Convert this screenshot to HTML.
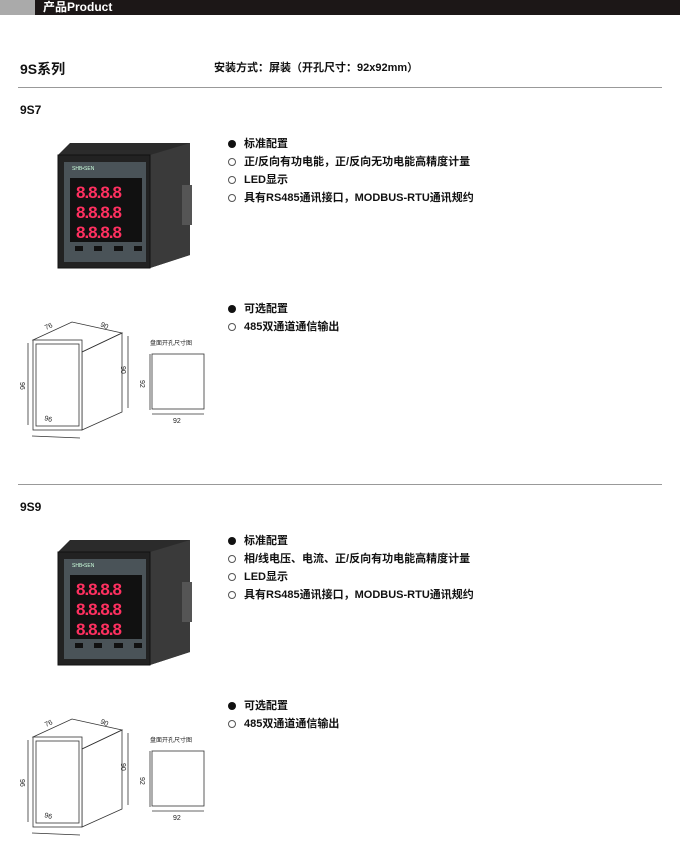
<!DOCTYPE html>
<html><head><meta charset="utf-8"><style>
body{margin:0;width:680px;height:848px;background:#fff;position:relative;overflow:hidden;font-family:"Liberation Sans","Noto Sans CJK SC",sans-serif;color:#111}
.a{position:absolute;white-space:nowrap}
.b{font-size:11px;font-weight:bold}
.dot{display:inline-block;width:8px;height:8px;border-radius:50%;margin-right:8px;vertical-align:-1px;box-sizing:border-box}
.f{background:#111}.o{border:1px solid #555}
.sec{position:absolute;left:0;width:680px;height:397px}
</style></head><body>
<div class="a" style="left:0;top:0;width:680px;height:15px;background:#1c1717"></div>
<div class="a" style="left:0;top:0;width:35px;height:15px;background:#aaa"></div>
<div class="a" style="left:43px;top:0;font-size:12px;font-weight:bold;color:#fff;line-height:15px">产品Product</div>
<div class="a" style="left:20px;top:59px;font-size:14px;font-weight:bold">9S系列</div>
<div class="a b" style="left:214px;top:59px">安装方式：屏装（开孔尺寸：92x92mm）</div>

<div class="sec" style="top:0">
<div class="a" style="left:18px;top:87px;width:644px;height:1px;background:#999"></div>
<div class="a" style="left:20px;top:103px;font-size:12px;font-weight:bold">9S7</div>
<svg class="a" style="left:0;top:0" width="240" height="440">
<polygon points="58,155 70,143 190,143 190,255 150,268 58,268" fill="#2b2b2b"/>
<polygon points="150,155 190,143 190,255 150,268" fill="#3a3a3a"/>
<rect x="182" y="185" width="10" height="40" fill="#555"/>
<rect x="58" y="155" width="92" height="113" fill="#222" stroke="#111"/>
<rect x="64" y="162" width="82" height="100" fill="#4a5358"/>
<text x="72" y="170" font-size="5" fill="#cfd" font-family="Liberation Sans">SHB•SEN</text>
<rect x="70" y="178" width="72" height="64" fill="#111"/>
<g fill="#ff3060" font-family="Liberation Sans" font-size="17" font-weight="bold" letter-spacing="-1">
<text x="76" y="198">8.8.8.8</text><text x="76" y="218">8.8.8.8</text><text x="76" y="238">8.8.8.8</text></g>
<g fill="#111"><rect x="75" y="246" width="8" height="5"/><rect x="94" y="246" width="8" height="5"/><rect x="114" y="246" width="9" height="5"/><rect x="134" y="246" width="8" height="5"/></g>
<g fill="none" stroke="#333" stroke-width="0.8">
<polygon points="33,340 72,322 122,333 82,352"/>
<polygon points="82,352 122,333 122,412 82,430"/>
<rect x="33" y="340" width="49" height="90" fill="#fff"/>
<rect x="36" y="344" width="43" height="82"/>
<line x1="28" y1="343" x2="28" y2="425"/><line x1="128" y1="336" x2="128" y2="408"/>
<line x1="32" y1="436" x2="80" y2="438"/>
<line x1="150" y1="354" x2="150" y2="410"/>
<rect x="152" y="354" width="52" height="55"/>
<line x1="152" y1="414" x2="204" y2="414"/>
</g>
<g font-size="7" fill="#222" font-family="Liberation Sans">
<text x="46" y="330" transform="rotate(-25 46 330)">76</text>
<text x="100" y="326" transform="rotate(25 100 326)">90</text>
<text x="20" y="382" transform="rotate(90 20 382)">96</text>
<text x="121" y="366" transform="rotate(90 121 366)">90</text>
<text x="44" y="420" transform="rotate(15 44 420)">96</text>
<text x="140" y="380" transform="rotate(90 140 380)">92</text>
<text x="173" y="423">92</text>
<text x="150" y="345" font-size="6" font-family="Noto Sans CJK SC">盘面开孔尺寸图</text>
</g>
</svg>
<div class="a b" style="left:228px;top:135px;line-height:18px">
<div><span class="dot f"></span>标准配置</div>
<div><span class="dot o"></span>正/反向有功电能，正/反向无功电能高精度计量</div>
<div><span class="dot o"></span>LED显示</div>
<div><span class="dot o"></span>具有RS485通讯接口，MODBUS-RTU通讯规约</div>
</div>
<div class="a b" style="left:228px;top:300px;line-height:18px">
<div><span class="dot f"></span>可选配置</div>
<div><span class="dot o"></span>485双通道通信输出</div>
</div>
</div>

<div class="sec" style="top:397px">
<div class="a" style="left:18px;top:87px;width:644px;height:1px;background:#999"></div>
<div class="a" style="left:20px;top:103px;font-size:12px;font-weight:bold">9S9</div>
<svg class="a" style="left:0;top:0" width="240" height="440">
<polygon points="58,155 70,143 190,143 190,255 150,268 58,268" fill="#2b2b2b"/>
<polygon points="150,155 190,143 190,255 150,268" fill="#3a3a3a"/>
<rect x="182" y="185" width="10" height="40" fill="#555"/>
<rect x="58" y="155" width="92" height="113" fill="#222" stroke="#111"/>
<rect x="64" y="162" width="82" height="100" fill="#4a5358"/>
<text x="72" y="170" font-size="5" fill="#cfd" font-family="Liberation Sans">SHB•SEN</text>
<rect x="70" y="178" width="72" height="64" fill="#111"/>
<g fill="#ff3060" font-family="Liberation Sans" font-size="17" font-weight="bold" letter-spacing="-1">
<text x="76" y="198">8.8.8.8</text><text x="76" y="218">8.8.8.8</text><text x="76" y="238">8.8.8.8</text></g>
<g fill="#111"><rect x="75" y="246" width="8" height="5"/><rect x="94" y="246" width="8" height="5"/><rect x="114" y="246" width="9" height="5"/><rect x="134" y="246" width="8" height="5"/></g>
<g fill="none" stroke="#333" stroke-width="0.8">
<polygon points="33,340 72,322 122,333 82,352"/>
<polygon points="82,352 122,333 122,412 82,430"/>
<rect x="33" y="340" width="49" height="90" fill="#fff"/>
<rect x="36" y="344" width="43" height="82"/>
<line x1="28" y1="343" x2="28" y2="425"/><line x1="128" y1="336" x2="128" y2="408"/>
<line x1="32" y1="436" x2="80" y2="438"/>
<line x1="150" y1="354" x2="150" y2="410"/>
<rect x="152" y="354" width="52" height="55"/>
<line x1="152" y1="414" x2="204" y2="414"/>
</g>
<g font-size="7" fill="#222" font-family="Liberation Sans">
<text x="46" y="330" transform="rotate(-25 46 330)">76</text>
<text x="100" y="326" transform="rotate(25 100 326)">90</text>
<text x="20" y="382" transform="rotate(90 20 382)">96</text>
<text x="121" y="366" transform="rotate(90 121 366)">90</text>
<text x="44" y="420" transform="rotate(15 44 420)">96</text>
<text x="140" y="380" transform="rotate(90 140 380)">92</text>
<text x="173" y="423">92</text>
<text x="150" y="345" font-size="6" font-family="Noto Sans CJK SC">盘面开孔尺寸图</text>
</g>
</svg>
<div class="a b" style="left:228px;top:135px;line-height:18px">
<div><span class="dot f"></span>标准配置</div>
<div><span class="dot o"></span>相/线电压、电流、正/反向有功电能高精度计量</div>
<div><span class="dot o"></span>LED显示</div>
<div><span class="dot o"></span>具有RS485通讯接口，MODBUS-RTU通讯规约</div>
</div>
<div class="a b" style="left:228px;top:300px;line-height:18px">
<div><span class="dot f"></span>可选配置</div>
<div><span class="dot o"></span>485双通道通信输出</div>
</div>
</div>
</body></html>
